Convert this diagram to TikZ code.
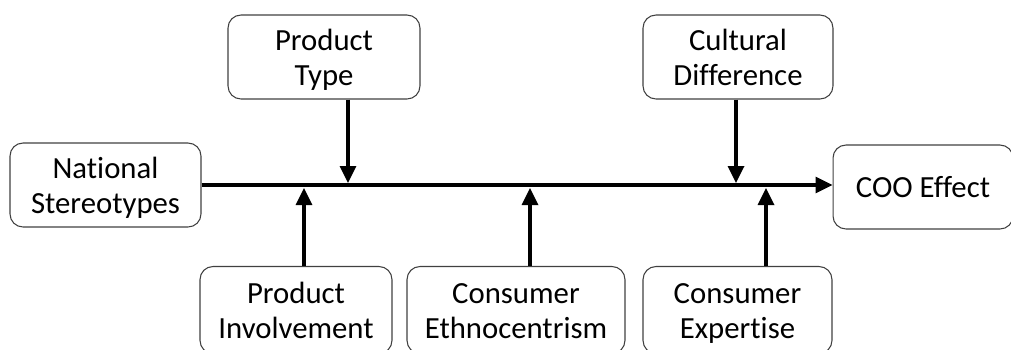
\documentclass[tikz,border=0pt]{standalone}
\usepackage{fontspec}
\setmainfont{Carlito}[Ligatures=NoCommon]
\usetikzlibrary{positioning,arrows.meta}

\begin{document}
\begin{tikzpicture}[x=0.02cm,y=-0.02cm,
  -{Triangle[length=0.34cm,width=0.32cm]},line width=1.9pt,
  main node/.style={rectangle,rounded corners=0.26cm,draw=black!75,line width=0.6pt,
    align=center,font=\fontsize{17.5}{19.8}\selectfont,inner sep=0pt,
    text height=38pt,text depth=6pt,minimum height=1.68cm}]
  \useasboundingbox (0,0) rectangle (1011,349);

  \node[main node,minimum width=3.82cm] (ns) at (105.5,185) {National\\Stereotypes};
  \node[main node,minimum width=3.6cm,text height=18.5pt] (coo) at (923,187) {COO Effect};

  \node[main node,minimum width=3.84cm] (pt) at (324,57) {Product\\Type};
  \node[main node,minimum width=3.8cm] (cd) at (738,57) {Cultural\\Difference};

  \node[main node,minimum width=3.84cm,minimum height=1.74cm] (pi) at (296,310) {Product\\Involvement};
  \node[main node,minimum width=4.36cm,minimum height=1.74cm] (ce) at (516,310) {Consumer\\Ethnocentrism};
  \node[main node,minimum width=3.78cm,minimum height=1.74cm] (cx) at (737.5,310) {Consumer\\Expertise};

  \coordinate (a1) at (348,183);
  \coordinate (a2) at (736,183);
  \coordinate (b1) at (304,188);
  \coordinate (b2) at (530,188);
  \coordinate (b3) at (766,188);

  \path
    (ns.east) edge (ns.east -| coo.west)
    (pt.south -| a1) edge (a1)
    (cd.south -| a2) edge (a2)
    (pi.north -| b1) edge (b1)
    (ce.north -| b2) edge (b2)
    (cx.north -| b3) edge (b3);
\end{tikzpicture}
\end{document}
